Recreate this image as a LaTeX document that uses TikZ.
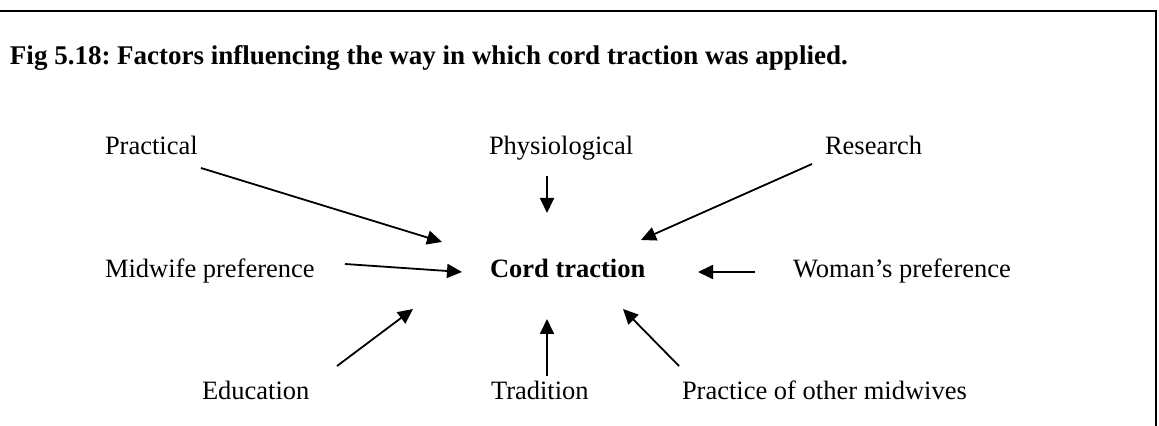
\documentclass[tikz,border=0pt]{standalone}
\usepackage{fontspec}
\setmainfont{Liberation Serif}
\usetikzlibrary{arrows.meta}
\frenchspacing
\begin{document}
\begin{tikzpicture}[x=0.5pt,y=-0.5pt,
  lbl/.style={inner sep=0pt, outer sep=0pt, anchor=base west, font=\fontsize{13.25pt}{15pt}\selectfont},
  boldlbl/.style={lbl, font=\fontsize{13.25pt}{15pt}\selectfont\bfseries},
  ttl/.style={lbl, font=\fontsize{13.5pt}{16pt}\selectfont\bfseries},
  arr/.style={line width=0.9pt, -{Triangle[length=7.5pt,width=7pt]}},
  frame/.style={line width=1pt, line join=miter}]
\useasboundingbox (0,0) rectangle (1159,426);
\draw[frame] (0,11) -- (1156,11) -- (1156,426);
\node[ttl] (title) at (10,65) {Fig 5.18: Factors influencing the way in which cord traction was applied.};
\node[lbl] (practical) at (105,155) {Practical};
\node[lbl] (physio) at (489,155) {Physiological};
\node[lbl] (research) at (825,155) {Research};
\node[lbl] (midwife) at (105,278) {Midwife preference};
\node[boldlbl] (cord) at (490,278) {Cord traction};
\node[lbl] (woman) at (793,278) {Woman’s preference};
\node[lbl] (education) at (202,400) {Education};
\node[lbl] (tradition) at (491,400) {Tradition};
\node[lbl] (practice) at (682,399) {Practice of other midwives};
% connector end points
\coordinate (pA) at (201,168); \coordinate (pB) at (442,242);
\coordinate (phA) at (547,176); \coordinate (phB) at (547,213);
\coordinate (rA) at (812,164); \coordinate (rB) at (641,240);
\coordinate (mA) at (345,264); \coordinate (mB) at (462,272);
\coordinate (wA) at (755,272); \coordinate (wB) at (698,272);
\coordinate (eA) at (337,366); \coordinate (eB) at (413,309);
\coordinate (tA) at (547,376); \coordinate (tB) at (547,319);
\coordinate (oA) at (679,366); \coordinate (oB) at (623,309);
\draw[arr] (pA) -- (pB);
\draw[arr] (phA) -- (phB);
\draw[arr] (rA) -- (rB);
\draw[arr] (mA) -- (mB);
\draw[arr] (wA) -- (wB);
\draw[arr] (eA) -- (eB);
\draw[arr] (tA) -- (tB);
\draw[arr] (oA) -- (oB);
\end{tikzpicture}
\end{document}
